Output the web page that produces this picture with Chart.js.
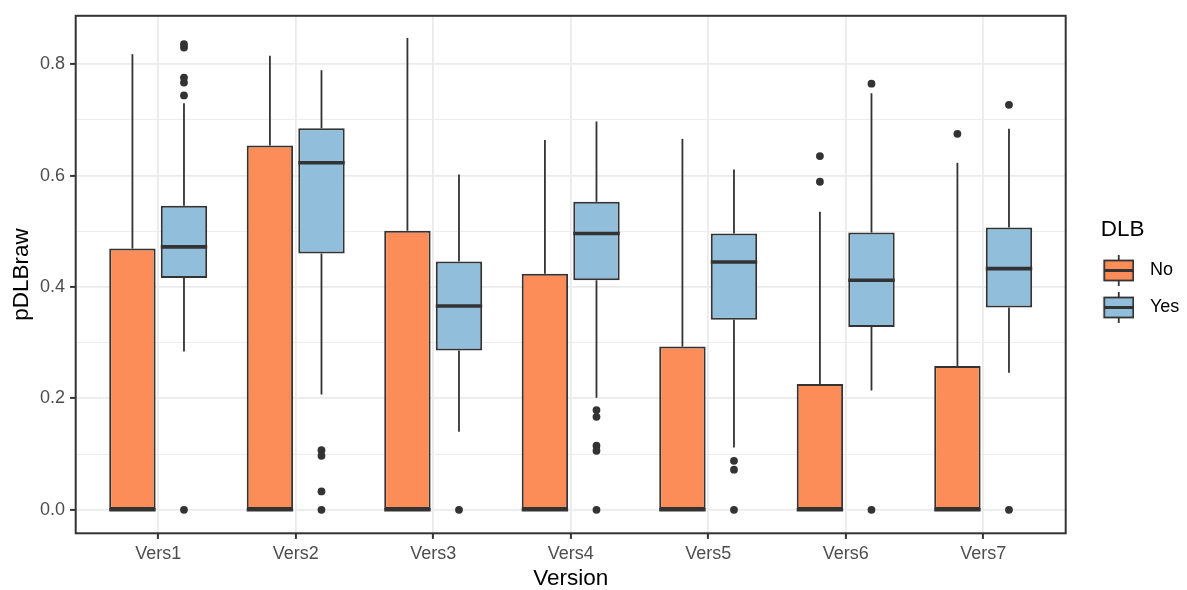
<!DOCTYPE html>
<html lang="en">
<head>
<meta charset="UTF-8">
<title>pDLBraw by Version</title>
<script src="https://cdn.jsdelivr.net/npm/chart.js"></script>
<style>
  body { margin: 0; background: #fff; }
</style>
</head>
<body>
<canvas id="chart" width="1187" height="590"></canvas>
<script>
// categories and tick values
const cats = ['Vers1', 'Vers2', 'Vers3', 'Vers4', 'Vers5', 'Vers6', 'Vers7'];
const yTicks = [0, 0.1, 0.2, 0.3, 0.4, 0.5, 0.6, 0.7, 0.8];

// DLB = No
const noLow  = [0, 0, 0, 0, 0, 0, 0];
const noQ1   = [0, 0, 0, 0, 0, 0, 0];
const noMed  = [0, 0, 0, 0, 0, 0, 0];
const noQ3   = [0.469, 0.654, 0.501, 0.424, 0.293, 0.226, 0.258];
const noHigh = [0.818, 0.815, 0.847, 0.664, 0.666, 0.535, 0.623];
const noOut  = [[], [], [], [], [], [0.635, 0.589], [0.675]];

// DLB = Yes
const yesLow  = [0.284, 0.207, 0.140, 0.201, 0.112, 0.214, 0.246];
const yesQ1   = [0.416, 0.460, 0.286, 0.412, 0.341, 0.328, 0.363];
const yesMed  = [0.472, 0.623, 0.366, 0.496, 0.445, 0.412, 0.433];
const yesQ3   = [0.546, 0.685, 0.446, 0.553, 0.496, 0.498, 0.507];
const yesHigh = [0.730, 0.789, 0.602, 0.697, 0.611, 0.748, 0.684];
const yesOut  = [[0.836, 0.830, 0.776, 0.767, 0.744, 0], [0.107, 0.097, 0.033, 0], [0],
                 [0.179, 0.167, 0.115, 0.106, 0], [0.088, 0.072, 0], [0.765, 0], [0.727, 0]];

const orange = '#FC8D59';
const blue = '#91BFDB';
const dark = '#333333';
const dodge = 0.1875; // half of the dodge width for two boxes

Chart.defaults.font.family = '"Liberation Sans", Arial, sans-serif';

const boxes = [
  { q1: noQ1, med: noMed, q3: noQ3, lo: noLow, hi: noHigh },
  { q1: yesQ1, med: yesMed, q3: yesQ3, lo: yesLow, hi: yesHigh }
];

function outPoints(arr, shift) {
  let pts = [];
  arr.forEach((vals, i) => vals.forEach(v => pts.push({ x: i + 1 + shift, y: v })));
  return pts;
}

// little boxplot glyph for the legend keys
function keyGlyph(fill) {
  let c = document.createElement('canvas');
  c.width = 42; c.height = 31;
  let g = c.getContext('2d');
  let cx = 26.85;
  g.strokeStyle = dark;
  g.lineWidth = 1.8;
  g.beginPath(); g.moveTo(cx, 0); g.lineTo(cx, 31); g.stroke();
  g.fillStyle = fill;
  g.fillRect(cx - 14.5, 5.5, 29, 20);
  g.strokeRect(cx - 14.5, 5.5, 29, 20);
  g.lineWidth = 3;
  g.beginPath(); g.moveTo(cx - 14.5, 15.5); g.lineTo(cx + 14.5, 15.5); g.stroke();
  return c;
}

const boxParts = {
  id: 'boxParts',
  beforeDatasetsDraw(chart) {
    const ctx = chart.ctx, y = chart.scales.y;
    ctx.save();
    ctx.strokeStyle = dark;
    ctx.lineWidth = 1.8;
    boxes.forEach((b, d) => {
      chart.getDatasetMeta(d).data.forEach((el, i) => {
        ctx.beginPath();
        ctx.moveTo(el.x, y.getPixelForValue(b.q3[i]));
        ctx.lineTo(el.x, y.getPixelForValue(b.hi[i]));
        ctx.moveTo(el.x, y.getPixelForValue(b.q1[i]));
        ctx.lineTo(el.x, y.getPixelForValue(b.lo[i]));
        ctx.stroke();
      });
    });
    ctx.restore();
  },
  afterDatasetsDraw(chart) {
    const ctx = chart.ctx, y = chart.scales.y, a = chart.chartArea;
    ctx.save();
    ctx.strokeStyle = dark;
    ctx.lineWidth = 3.6;
    boxes.forEach((b, d) => {
      chart.getDatasetMeta(d).data.forEach((el, i) => {
        let py = y.getPixelForValue(b.med[i]);
        ctx.beginPath();
        ctx.moveTo(el.x - el.width / 2, py);
        ctx.lineTo(el.x + el.width / 2, py);
        ctx.stroke();
      });
    });
    // panel border
    ctx.lineWidth = 2;
    ctx.strokeRect(a.left, a.top, a.right - a.left, a.bottom - a.top);
    ctx.restore();
  }
};

new Chart(document.getElementById('chart'), {
  type: 'bar',
  data: {
    datasets: [
      {
        label: 'No',
        data: cats.map((c, i) => ({ x: i + 1, y: [noQ1[i], noQ3[i]] })),
        backgroundColor: orange, borderColor: dark, borderWidth: 2, borderSkipped: false,
        categoryPercentage: 0.75, barPercentage: 0.9, order: 2
      },
      {
        label: 'Yes',
        data: cats.map((c, i) => ({ x: i + 1, y: [yesQ1[i], yesQ3[i]] })),
        backgroundColor: blue, borderColor: dark, borderWidth: 2, borderSkipped: false,
        categoryPercentage: 0.75, barPercentage: 0.9, order: 2
      },
      {
        type: 'scatter', label: 'No outliers', data: outPoints(noOut, -dodge),
        pointRadius: 3.9, pointBackgroundColor: dark, pointBorderWidth: 0, order: 3
      },
      {
        type: 'scatter', label: 'Yes outliers', data: outPoints(yesOut, dodge),
        pointRadius: 3.9, pointBackgroundColor: dark, pointBorderWidth: 0, order: 3
      }
    ]
  },
  options: {
    responsive: false,
    animation: false,
    devicePixelRatio: 1,
    layout: { padding: { top: 11.7, right: 7.3, bottom: 0, left: 0 } },
    scales: {
      x: {
        type: 'linear',
        offset: false,
        min: 0.4, max: 7.6,
        afterBuildTicks: s => { s.ticks = cats.map((c, i) => ({ value: i + 1 })); },
        afterFit: s => { s.height = 56.7; },
        ticks: {
          callback: v => cats[v - 1],
          autoSkip: false, maxRotation: 0,
          color: '#4D4D4D', font: { size: 18 }, padding: 4
        },
        grid: { offset: false, color: '#EBEBEB', lineWidth: 1.8, tickColor: dark, tickWidth: 2, tickLength: 5.6 },
        border: { display: false },
        title: { display: true, text: 'Version', color: '#000', font: { size: 22.5 }, padding: { top: 0, bottom: -2 } }
      },
      y: {
        min: -0.0422, max: 0.8869,
        afterBuildTicks: s => { s.ticks = yTicks.map(v => ({ value: v })); },
        afterFit: s => { s.width = 75.7; },
        ticks: {
          callback: v => (Math.round(v * 10) % 2 === 0 ? v.toFixed(1) : ''),
          color: '#4D4D4D', font: { size: 18 }, padding: 5
        },
        grid: {
          color: '#EBEBEB',
          lineWidth: c => (Math.round(c.tick.value * 10) % 2 === 0 ? 1.8 : 0.9),
          tickColor: c => (Math.round(c.tick.value * 10) % 2 === 0 ? dark : 'rgba(0,0,0,0)'),
          tickWidth: 2, tickLength: 5.6
        },
        border: { display: false },
        title: { display: true, text: 'pDLBraw', color: '#000', font: { size: 22.5 }, padding: { top: 8.5, bottom: 0 } }
      }
    },
    plugins: {
      tooltip: { enabled: false },
      legend: {
        position: 'right',
        align: 'start',
        maxWidth: 114,
        title: {
          display: true, text: 'DLB', color: '#000', position: 'center',
          font: { size: 22.5 }, padding: { top: 207, bottom: -3.25 }
        },
        labels: {
          usePointStyle: true,
          pointStyleWidth: 56.3,
          padding: 19,
          color: '#000',
          font: { size: 18 },
          generateLabels: () => [
            { text: 'No', pointStyle: keyGlyph(orange), fillStyle: orange, strokeStyle: dark, lineWidth: 0, hidden: false, datasetIndex: 0 },
            { text: 'Yes', pointStyle: keyGlyph(blue), fillStyle: blue, strokeStyle: dark, lineWidth: 0, hidden: false, datasetIndex: 1 }
          ]
        }
      }
    }
  },
  plugins: [boxParts]
});
</script>
</body>
</html>
